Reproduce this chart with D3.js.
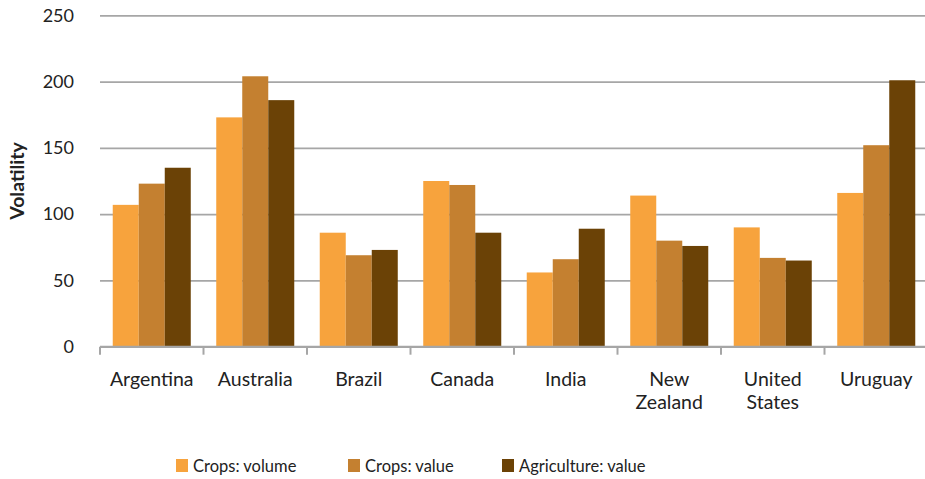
<!DOCTYPE html>
<html lang="en">
<head>
<meta charset="utf-8"/>
<script src="https://cdn.jsdelivr.net/npm/d3@7"></script>
<style>
  body { margin: 0; background: #fff; }
  text { font-family: Lato, "Open Sans", sans-serif; fill: #222; }
</style>
</head>
<body>
<script>
// chart data
var countries = ["Argentina", "Australia", "Brazil", "Canada", "India", "New Zealand", "United States", "Uruguay"];
var countryLines = [["Argentina"], ["Australia"], ["Brazil"], ["Canada"], ["India"], ["New", "Zealand"], ["United", "States"], ["Uruguay"]];
var seriesNames = ["Crops: volume", "Crops: value", "Agriculture: value"];
var cropsVolume = [107, 173, 86, 125, 56, 114, 90, 116];
var cropsValue = [123, 204, 69, 122, 66, 80, 67, 152];
var agriValue = [135, 186, 73, 86, 89, 76, 65, 201];
var yTicks = [0, 50, 100, 150, 200, 250];
var colors = ["#f7a33d", "#c48030", "#6b4206"];

var W = 925, H = 479;
var plotLeft = 100, plotRight = 928, plotTop = 15.3, plotBottom = 346.7;

var svg = d3.select("body").append("svg")
    .attr("width", W)
    .attr("height", H);

var seriesValues = [cropsVolume, cropsValue, agriValue];
var rows = countries.map(function(c, i) {
    return { country: c, values: seriesNames.map(function(s, j) { return { name: s, v: seriesValues[j][i] }; }) };
});

var x0 = d3.scaleBand().domain(countries).range([plotLeft, plotRight]).padding(0);
var x1 = d3.scaleBand().domain(seriesNames).range([0, x0.bandwidth()])
    .paddingInner(0).paddingOuter(0.49);
var y = d3.scaleLinear().domain([0, 250]).range([plotBottom, plotTop]);
var color = d3.scaleOrdinal().domain(seriesNames).range(colors);

// gridlines + y labels
var yAxis = d3.axisLeft(y).tickValues(yTicks).tickSize(-(W - plotLeft)).tickPadding(26);
var gy = svg.append("g").attr("transform", "translate(" + plotLeft + ",0)").call(yAxis);
gy.select(".domain").remove();
gy.selectAll(".tick line").attr("stroke", "#a6a6a6").attr("stroke-width", 1.8);
gy.selectAll(".tick text").attr("font-size", "18px").attr("fill", "#222")
    .style("font-family", "Lato, sans-serif");

// bars
svg.append("g").selectAll("g")
    .data(rows)
    .join("g")
    .attr("transform", function(d) { return "translate(" + x0(d.country) + ",0)"; })
    .selectAll("rect")
    .data(function(d) { return d.values; })
    .join("rect")
    .attr("x", function(d) { return x1(d.name); })
    .attr("width", x1.bandwidth())
    .attr("y", function(d) { return y(d.v); })
    .attr("height", function(d) { return y(0) - y(d.v); })
    .attr("fill", function(d) { return color(d.name); });

// x axis line and ticks at band boundaries
svg.append("line")
    .attr("x1", plotLeft).attr("x2", W)
    .attr("y1", plotBottom).attr("y2", plotBottom)
    .attr("stroke", "#a6a6a6").attr("stroke-width", 2);
var bounds = countries.map(function(c) { return x0(c); });
svg.append("g").selectAll("line")
    .data(bounds)
    .join("line")
    .attr("x1", function(d) { return d; })
    .attr("x2", function(d) { return d; })
    .attr("y1", plotBottom)
    .attr("y2", plotBottom + 8)
    .attr("stroke", "#a6a6a6").attr("stroke-width", 2);

// category labels
svg.append("g").selectAll("text")
    .data(countries)
    .join("text")
    .attr("x", function(c) { return x0(c) + x0.bandwidth() / 2; })
    .attr("y", 386)
    .attr("text-anchor", "middle")
    .attr("font-size", "19.5px")
    .each(function(c, i) {
        var t = d3.select(this);
        countryLines[i].forEach(function(line, k) {
            t.append("tspan")
                .attr("x", x0(c) + x0.bandwidth() / 2)
                .attr("dy", k === 0 ? 0 : 23)
                .text(line);
        });
    });

// y axis title
svg.append("text")
    .attr("transform", "translate(24,181) rotate(-90)")
    .attr("text-anchor", "middle")
    .attr("font-size", "19.5px")
    .attr("font-weight", "bold")
    .text("Volatility");

// legend
var legendX = [176, 348, 502];
var lg = svg.append("g").selectAll("g")
    .data(seriesNames)
    .join("g")
    .attr("transform", function(d, i) { return "translate(" + legendX[i] + ",459)"; });
lg.append("rect")
    .attr("width", 12).attr("height", 13)
    .attr("fill", function(d) { return color(d); });
lg.append("text")
    .attr("x", 17).attr("y", 13)
    .attr("font-size", "16.5px")
    .text(function(d) { return d; });
</script>
</body>
</html>
